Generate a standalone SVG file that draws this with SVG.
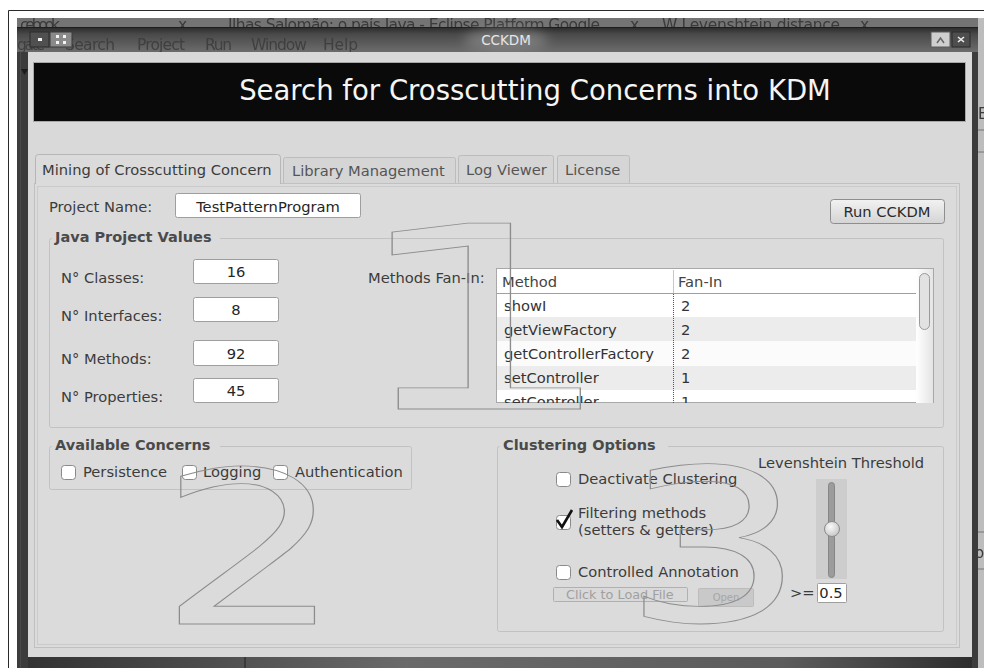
<svg xmlns="http://www.w3.org/2000/svg" width="984" height="668" viewBox="0 0 984 668">
  <defs>
    <style>
      text { font-family: "DejaVu Sans", "Liberation Sans", sans-serif; }
      .lbl { font-size: 14.7px; fill: #3c3c3c; }
      .bold { font-size: 14.5px; font-weight: bold; fill: #4a4a4a; }
      .val { font-size: 14.7px; fill: #262626; text-anchor: middle; }
      .cell { font-size: 14.7px; fill: #333333; }
      .field { fill: #ffffff; stroke: #9e9e9e; stroke-width: 1; }
      .chk { fill: #ffffff; stroke: #8a8a8a; stroke-width: 1; }
      .grp { fill: none; stroke: #c2c2c2; stroke-width: 1; }
      .tab { fill: #d5d5d5; stroke: #bcbcbc; stroke-width: 1; }
      .big { fill: none; stroke: #8c8c8c; stroke-width: 1.1; }
      .behind { fill: #3a3a3a; font-size: 15.5px; }
    </style>
    <linearGradient id="titleBar" x1="0" y1="0" x2="0" y2="1">
      <stop offset="0" stop-color="#2a2a2a"/>
      <stop offset="0.3" stop-color="#4a4a4a"/>
      <stop offset="1" stop-color="#6c6c6c"/>
    </linearGradient>
    <linearGradient id="bottomFrame" x1="0" y1="0" x2="1" y2="0">
      <stop offset="0" stop-color="#333333"/>
      <stop offset="0.4" stop-color="#6a6a6a"/>
      <stop offset="0.8" stop-color="#5c5c5c"/>
      <stop offset="1" stop-color="#2e2e2e"/>
    </linearGradient>
    <linearGradient id="button" x1="0" y1="0" x2="0" y2="1">
      <stop offset="0" stop-color="#f2f2f2"/>
      <stop offset="1" stop-color="#d4d4d4"/>
    </linearGradient>
    <linearGradient id="scrollTrack" x1="0" y1="0" x2="1" y2="0">
      <stop offset="0" stop-color="#ffffff"/>
      <stop offset="1" stop-color="#e4e4e4"/>
    </linearGradient>
    <radialGradient id="knob" cx="0.4" cy="0.35" r="0.7">
      <stop offset="0" stop-color="#fafafa"/>
      <stop offset="1" stop-color="#c4c4c4"/>
    </radialGradient>
    <filter id="soft" x="-5%" y="-50%" width="110%" height="200%">
      <feGaussianBlur stdDeviation="0.7"/>
    </filter>
    <filter id="glow" x="-50%" y="-100%" width="200%" height="300%">
      <feGaussianBlur stdDeviation="6"/>
    </filter>
    <clipPath id="topStrip"><rect x="17" y="18" width="967" height="9"/></clipPath>
    <clipPath id="menuClip"><rect x="17" y="27" width="960" height="25"/></clipPath>
    <clipPath id="tableClip"><rect x="497" y="269" width="437" height="134"/></clipPath>
    <clipPath id="rightEdge"><rect x="978" y="18" width="6" height="650"/></clipPath>
  </defs>

  <!-- page and figure border -->
  <rect width="984" height="668" fill="#ffffff"/>
  <path d="M8.5 668 V10.5 H984" fill="none" stroke="#2a2a2a" stroke-width="1"/>

  <!-- desktop behind the dialog -->
  <g id="desktop">
    <rect x="17" y="18" width="967" height="650" fill="#3a3a3a"/>
    <rect x="17" y="18" width="967" height="9" fill="#747474"/>
    <g clip-path="url(#topStrip)" filter="url(#soft)">
      <text class="behind" x="20" y="30" textLength="40">cebook</text>
      <text class="behind" x="178" y="30">x</text>
      <text class="behind" x="228" y="30" textLength="372">Ilhas Salomão: o país Java - Eclipse Platform Google</text>
      <text class="behind" x="630" y="30">x</text>
      <text class="behind" x="662" y="30" textLength="178">W Levenshtein distance</text>
      <text class="behind" x="860" y="30">x</text>
    </g>
    <rect x="978" y="18" width="6" height="650" fill="#bdbdbd"/>
    <g clip-path="url(#rightEdge)" filter="url(#soft)">
      <path d="M978 130 H984 M978 152 H984 M978 532 H984 M978 569 H984" stroke="#777" stroke-width="1"/>
      <text class="behind" x="978" y="119" style="font-size:15px">Ex</text>
      <text class="behind" x="975" y="558" style="font-size:15px">or</text>
    </g>
  </g>

  <!-- dialog frame and title bar -->
  <g id="window-frame">
    <rect x="17" y="27" width="961" height="641" fill="#3c3c3c"/>
    <rect x="17" y="27" width="961" height="25" fill="url(#titleBar)"/>
    <line x1="17" y1="27.5" x2="978" y2="27.5" stroke="#1e1e1e"/>
    <g clip-path="url(#menuClip)" filter="url(#soft)" opacity="0.85">
      <text class="behind" x="17" y="50" textLength="28">gate</text>
      <text class="behind" x="65" y="50" textLength="50">Search</text>
      <text class="behind" x="137" y="50" textLength="48">Project</text>
      <text class="behind" x="205" y="50" textLength="27">Run</text>
      <text class="behind" x="251" y="50" textLength="56">Window</text>
      <text class="behind" x="323" y="50" textLength="35">Help</text>
    </g>
    <ellipse cx="506" cy="40" rx="42" ry="11" fill="#9a9a9a" opacity="0.55" filter="url(#glow)"/>
    <text x="506" y="45" text-anchor="middle" style="font-size:13.5px;fill:#e6e6e6">CCKDM</text>
    <!-- window buttons -->
    <rect x="30" y="32" width="19" height="15" fill="#505050" stroke="#2a2a2a"/>
    <rect x="38" y="38" width="4" height="3" fill="#f0f0f0"/>
    <rect x="50" y="32" width="22" height="15" fill="#8a8a8a" stroke="#3a3a3a"/>
    <rect x="56" y="35" width="3" height="3" fill="#f4f4f4"/>
    <rect x="63" y="35" width="3" height="3" fill="#f4f4f4"/>
    <rect x="56" y="41" width="3" height="3" fill="#f4f4f4"/>
    <rect x="63" y="41" width="3" height="3" fill="#f4f4f4"/>
    <rect x="931" y="32" width="19" height="15" fill="#cfcfcf" stroke="#5a5a5a"/>
    <path d="M937 43 L940.5 38 L944 43" fill="none" stroke="#666" stroke-width="1.5"/>
    <rect x="952" y="32" width="18" height="15" fill="#4e4e4e" stroke="#2a2a2a"/>
    <path d="M958 37 L964 42 M964 37 L958 42" stroke="#eeeeee" stroke-width="1.6"/>
    <polygon points="21,69 28,69 24.5,75" fill="#1c1c1c"/>
    <!-- bottom frame -->
    <rect x="28" y="657" width="944" height="11" fill="url(#bottomFrame)"/>
    <line x1="245" y1="657" x2="245" y2="668" stroke="#222"/>
    <line x1="20.5" y1="52" x2="20.5" y2="668" stroke="#4a4a4a"/>
  </g>

  <!-- client area -->
  <rect id="client" x="28" y="52" width="944" height="605" fill="#d9d9d9"/>

  <!-- heading banner -->
  <g id="banner">
    <rect x="33.5" y="62.5" width="932" height="59" fill="#0a0a0a" stroke="#a9a9a9"/>
    <text x="535" y="100" text-anchor="middle" style="font-size:27.5px;fill:#f5f5f5">Search for Crosscutting Concerns into KDM</text>
  </g>

  <!-- tabs -->
  <g id="tabs">
    <path class="tab" d="M283.5 183.5 V159.5 Q283.5 157.5 285.5 157.5 H453.5 Q455.5 157.5 455.5 159.5 V183.5"/>
    <path class="tab" d="M458.5 183.5 V157.5 Q458.5 155.5 460.5 155.5 H551.5 Q553.5 155.5 553.5 157.5 V183.5"/>
    <path class="tab" d="M557.5 183.5 V157.5 Q557.5 155.5 559.5 155.5 H627.5 Q629.5 155.5 629.5 157.5 V183.5"/>
    <text class="lbl" x="292" y="176" style="fill:#555">Library Management</text>
    <text class="lbl" x="466" y="175" style="fill:#555">Log Viewer</text>
    <text class="lbl" x="565" y="175" style="fill:#555">License</text>
  </g>

  <!-- tab page -->
  <g id="tab-page">
    <rect x="34.5" y="183.5" width="925" height="464" fill="#dbdbdb" stroke="#c0c0c0"/>
    <rect x="37.5" y="186.5" width="919" height="458" fill="none" stroke="#cacaca"/>
    <path d="M35.5 184 V157.5 Q35.5 154.5 38.5 154.5 H277.5 Q280.5 154.5 280.5 157.5 V184" fill="#dbdbdb" stroke="#b6b6b6"/>
    <text class="lbl" x="42" y="175">Mining of Crosscutting Concern</text>
  </g>

  <!-- project name and run button -->
  <g id="project-row">
    <text class="lbl" x="49" y="212">Project Name:</text>
    <rect class="field" x="175.5" y="193.5" width="185" height="24" rx="2"/>
    <text class="val" x="268" y="212">TestPatternProgram</text>
    <rect x="830.5" y="199.5" width="114" height="24" rx="3" fill="url(#button)" stroke="#8e8e8e"/>
    <text class="val" x="887" y="217" style="fill:#2a2a2a">Run CCKDM</text>
  </g>

  <!-- java project values -->
  <g id="java-project-values">
    <rect class="grp" x="49.5" y="238.5" width="894" height="189" rx="2"/>
    <rect x="52" y="228" width="168" height="16" fill="#dbdbdb"/>
    <text class="bold" x="55" y="242">Java Project Values</text>

    <text class="lbl" x="61" y="283">N° Classes:</text>
    <rect class="field" x="193.5" y="259.5" width="85" height="24" rx="2"/>
    <text class="val" x="236" y="277">16</text>

    <text class="lbl" x="61" y="321">N° Interfaces:</text>
    <rect class="field" x="193.5" y="297.5" width="85" height="24" rx="2"/>
    <text class="val" x="236" y="315">8</text>

    <text class="lbl" x="61" y="364">N° Methods:</text>
    <rect class="field" x="193.5" y="340.5" width="85" height="25" rx="2"/>
    <text class="val" x="236" y="359">92</text>

    <text class="lbl" x="61" y="402">N° Properties:</text>
    <rect class="field" x="193.5" y="378.5" width="85" height="24" rx="2"/>
    <text class="val" x="236" y="396">45</text>

    <text class="lbl" x="368" y="283">Methods Fan-In:</text>
  </g>

  <!-- fan-in table -->
  <g id="fan-in-table">
    <rect x="496.5" y="268.5" width="437" height="134" fill="#ffffff" stroke="#a8a8a8"/>
    <g clip-path="url(#tableClip)">
      <rect x="497" y="269" width="419" height="24" fill="#ffffff"/>
      <rect x="497" y="317" width="419" height="24" fill="#ececec"/>
      <rect x="497" y="341" width="419" height="25" fill="#fbfbfb"/>
      <rect x="497" y="366" width="419" height="24" fill="#ececec"/>
      <line x1="497" y1="293.5" x2="916" y2="293.5" stroke="#a0a0a0"/>
      <line x1="673.5" y1="270" x2="673.5" y2="293" stroke="#c8c8c8"/>
      <line x1="673.5" y1="294" x2="673.5" y2="403" stroke="#555" stroke-dasharray="1 1"/>
      <text class="cell" x="502" y="287" style="fill:#444">Method</text>
      <text class="cell" x="678" y="287" style="fill:#444">Fan-In</text>
      <text class="cell" x="504" y="311">showI</text>
      <text class="cell" x="681" y="311">2</text>
      <text class="cell" x="504" y="335">getViewFactory</text>
      <text class="cell" x="681" y="335">2</text>
      <text class="cell" x="504" y="359">getControllerFactory</text>
      <text class="cell" x="681" y="359">2</text>
      <text class="cell" x="504" y="383">setController</text>
      <text class="cell" x="681" y="383">1</text>
      <text class="cell" x="504" y="407">setController</text>
      <text class="cell" x="681" y="407">1</text>
      <rect x="916" y="269" width="17" height="134" fill="url(#scrollTrack)"/>
      <rect x="919.5" y="273.5" width="10" height="56" rx="5" fill="#e2e2e2" stroke="#9a9a9a"/>
    </g>
  </g>

  <!-- available concerns -->
  <g id="available-concerns">
    <rect class="grp" x="49.5" y="446.5" width="362" height="43" rx="2"/>
    <rect x="52" y="436" width="168" height="16" fill="#dbdbdb"/>
    <text class="bold" x="55" y="450">Available Concerns</text>
    <rect class="chk" x="61.5" y="465.5" width="14" height="14" rx="3"/>
    <text class="lbl" x="83" y="477">Persistence</text>
    <rect class="chk" x="182.5" y="465.5" width="14" height="14" rx="3"/>
    <text class="lbl" x="203" y="477">Logging</text>
    <rect class="chk" x="273.5" y="465.5" width="14" height="14" rx="3"/>
    <text class="lbl" x="295" y="477">Authentication</text>
  </g>

  <!-- clustering options -->
  <g id="clustering-options">
    <rect class="grp" x="497.5" y="446.5" width="446" height="185" rx="2"/>
    <rect x="500" y="436" width="168" height="16" fill="#dbdbdb"/>
    <text class="bold" x="503" y="450">Clustering Options</text>

    <rect class="chk" x="556.5" y="472.5" width="14" height="14" rx="3"/>
    <text class="lbl" x="578" y="484">Deactivate Clustering</text>

    <rect class="chk" x="556.5" y="515.5" width="14" height="14" rx="3"/>
    <path d="M557 520 L562 527 L572 510" fill="none" stroke="#111" stroke-width="2.6" stroke-linejoin="miter"/>
    <text class="lbl" x="578" y="518">Filtering methods</text>
    <text class="lbl" x="578" y="535">(setters &amp; getters)</text>

    <rect class="chk" x="556.5" y="565.5" width="14" height="14" rx="3"/>
    <text class="lbl" x="578" y="577">Controlled Annotation</text>

    <rect x="553.5" y="587.5" width="134" height="14" rx="1" fill="#d9d9d9" stroke="#b0b0b0"/>
    <text x="566" y="599" style="font-size:12.8px;fill:#a0a0a0">Click to Load File</text>
    <rect x="698.5" y="588.5" width="55" height="18" rx="1" fill="#c9c9c9" stroke="#bcbcbc"/>
    <text x="726" y="601" text-anchor="middle" style="font-size:10px;fill:#a6a6a6">Open</text>

    <text class="lbl" x="758" y="468">Levenshtein Threshold</text>
    <rect x="816" y="479" width="31" height="100" fill="#cdcdcd"/>
    <rect x="828.5" y="482.5" width="6" height="95" rx="3" fill="#9c9c9c" stroke="#868686"/>
    <circle cx="832" cy="529" r="7.5" fill="url(#knob)" stroke="#8a8a8a"/>
    <text class="lbl" x="790" y="598">&gt;=</text>
    <rect class="field" x="817.5" y="583.5" width="29" height="19" rx="1"/>
    <text class="val" x="831" y="598">0.5</text>
  </g>

  <!-- large outlined step numbers -->
  <g id="step-numbers">
    <text class="big" transform="translate(344.5 409) scale(1.7 1)" style="font-size:255px" vector-effect="non-scaling-stroke">1</text>
    <text class="big" transform="translate(158 624) scale(1.37 1)" style="font-size:213px" vector-effect="non-scaling-stroke">2</text>
    <text class="big" transform="translate(622 621) scale(1.36 1)" style="font-size:212px" vector-effect="non-scaling-stroke">3</text>
  </g>
</svg>
